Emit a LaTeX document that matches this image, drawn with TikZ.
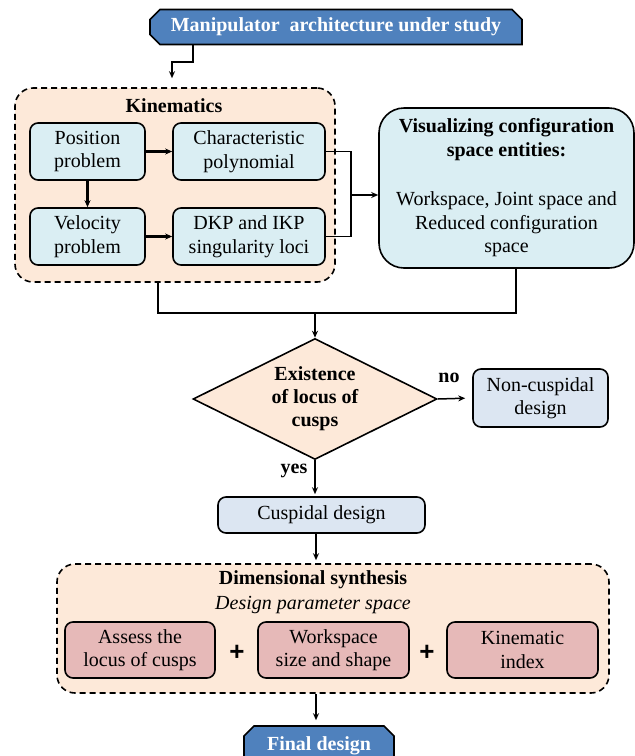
\documentclass[tikz,border=0pt]{standalone}
\usepackage{fontspec}
\setmainfont{Liberation Serif}
\setsansfont{Liberation Sans}
\usetikzlibrary{shapes.geometric,shapes.misc,arrows.meta}

\definecolor{hdblue}{RGB}{79,129,189}
\definecolor{peach}{RGB}{253,233,217}
\definecolor{iceblue}{RGB}{218,238,243}
\definecolor{paleblue}{RGB}{220,230,242}
\definecolor{rosy}{RGB}{230,185,184}

\tikzset{
  txt/.style={font=\fontsize{20}{23.5}\selectfont, align=center, inner sep=0pt},
  hdbox/.style={txt, font=\fontsize{20}{23.5}\selectfont\bfseries, chamfered rectangle,
    chamfered rectangle corners={north west,north east,south west},
    chamfered rectangle xsep=5pt, chamfered rectangle ysep=5pt,
    draw, line width=1.6pt, fill=hdblue, text=white},
  grpbox/.style={draw, line width=1.6pt, dash pattern=on 6pt off 4pt, rounded corners=18pt, fill=peach},
  kbox/.style={txt, draw, line width=1.6pt, rounded corners=8pt, fill=iceblue},
  dbox/.style={txt, draw, line width=1.6pt, rounded corners=8pt, fill=paleblue},
  sbox/.style={txt, draw, line width=1.6pt, rounded corners=8pt, fill=rosy},
  decide/.style={txt, font=\fontsize{20}{23}\selectfont\bfseries, diamond, aspect=2, draw, line width=1.6pt, fill=peach},
  arr/.style={-{Stealth[length=7pt,width=6pt]}, line width=1.5pt},
  thkarr/.style={-{Stealth[length=7pt,width=6pt]}, line width=2.2pt},
  lnk/.style={line width=1.5pt},
}

\begin{document}
\begin{tikzpicture}[x=1pt,y=1pt,yscale=-1]
		\useasboundingbox (0,0) rectangle (635,756);
		\clip (0,0) rectangle (635,756);

		%Shape: Header
		\node [hdbox, minimum width=372, minimum height=35] (arch) at (336,27) {Manipulator\ \ architecture under study};

		%Shape: Kinematics group
		\node [grpbox, minimum width=320, minimum height=194] (kin) at (175,185) {};
		% Text Node
		\node [txt, font=\fontsize{20}{23}\selectfont\bfseries] (kintitle) at (174,106) {Kinematics};
		%Shape: Kinematics steps
		\node [kbox, minimum width=115, minimum height=57] (pos) at (87.5,151.5) {Position\\problem};
		\node [kbox, minimum width=152, minimum height=57] (chp) at (249,151.5) {Characteristic\\polynomial};
		\node [kbox, minimum width=115, minimum height=57] (vel) at (87.5,236.5) {Velocity\\problem};
		\node [kbox, minimum width=152, minimum height=57] (sing) at (249,236.5) {DKP and IKP\\singularity loci};

		%Shape: Visualizing box
		\node [kbox, rounded corners=25pt, minimum width=255, minimum height=160] (vis) at (506.5,188)
		  {\textbf{Visualizing configuration}\\\textbf{space entities:}\\[26pt]Workspace, Joint space and\\Reduced configuration\\space};

		%Shape: Decision
		\node [decide, minimum width=244, minimum height=121] (exist) at (315,399) {Existence\\of locus of\\cusps};
		\node [dbox, minimum width=135, minimum height=58] (noncusp) at (540.5,398) {Non-cuspidal\\design};
		\node [dbox, minimum width=207, minimum height=36] (cusp) at (321.5,515) {Cuspidal design};

		%Shape: Dimensional synthesis group
		\node [grpbox, minimum width=552, minimum height=129] (dim) at (333,628.5) {};
		% Text Node
		\node [txt, font=\fontsize{20}{23}\selectfont\bfseries] (dimtitle) at (313,580) {Dimensional synthesis};
		\node [txt, font=\fontsize{20}{23}\selectfont\itshape] (dimsub) at (313,605) {Design parameter space};
		\node [sbox, minimum width=150, minimum height=56] (assess) at (140,650) {Assess the\\locus of cusps};
		\node [sbox, minimum width=151, minimum height=56] (wsz) at (333.5,650) {Workspace\\size and shape};
		\node [sbox, minimum width=151, minimum height=56] (kidx) at (522.5,650) {Kinematic\\index};
		\node [txt, font=\fontsize{26}{26}\sffamily\bfseries] (plusa) at (237,653) {+};
		\node [txt, font=\fontsize{26}{26}\sffamily\bfseries] (plusb) at (427,653) {+};

		%Shape: Final
		\node [hdbox, minimum width=150, minimum height=40] (final) at (319,746) {Final design};

		%Connectors
		\coordinate (a1) at (193,62);
		\coordinate (a2) at (172,62);
		\draw [arr, shorten >=9pt] (arch.south -| a1) -- (a1) -- (a2) -- (a2 |- kin.north);

		\draw [thkarr] (pos) -- (chp);
		\draw [thkarr] (vel) -- (sing);
		\draw [thkarr] (pos) -- (vel);

		\coordinate (j) at (351,195);
		\draw [lnk] (chp.east) -| (j) |- (sing.east);
		\draw [arr] (j) -- (j -| vis.west);

		\coordinate (b1) at (158,313);
		\coordinate (b2) at (516,313);
		\draw [lnk] (kin.south -| b1) -- (b1) -- (b2) -- (b2 |- vis.south);
		\draw [arr] (exist.north |- b1) -- (exist.north);

		\draw [arr, shorten >=7pt] (exist.east) -- (noncusp.west);
		\node [txt, font=\fontsize{20}{23}\selectfont\bfseries] (nolbl) at (449,378) {no};
		\draw [arr, shorten >=2pt] (exist.south) -- (exist.south |- cusp.north);
		\node [txt, font=\fontsize{20}{23}\selectfont\bfseries] (yeslbl) at (294,471) {yes};

		\coordinate (c1) at (316,0);
		\draw [arr, shorten >=3pt] (cusp.south -| c1) -- (dim.north -| c1);
		\draw [arr, shorten >=5pt] (dim.south -| c1) -- (final.north -| c1);

\end{tikzpicture}
\end{document}
